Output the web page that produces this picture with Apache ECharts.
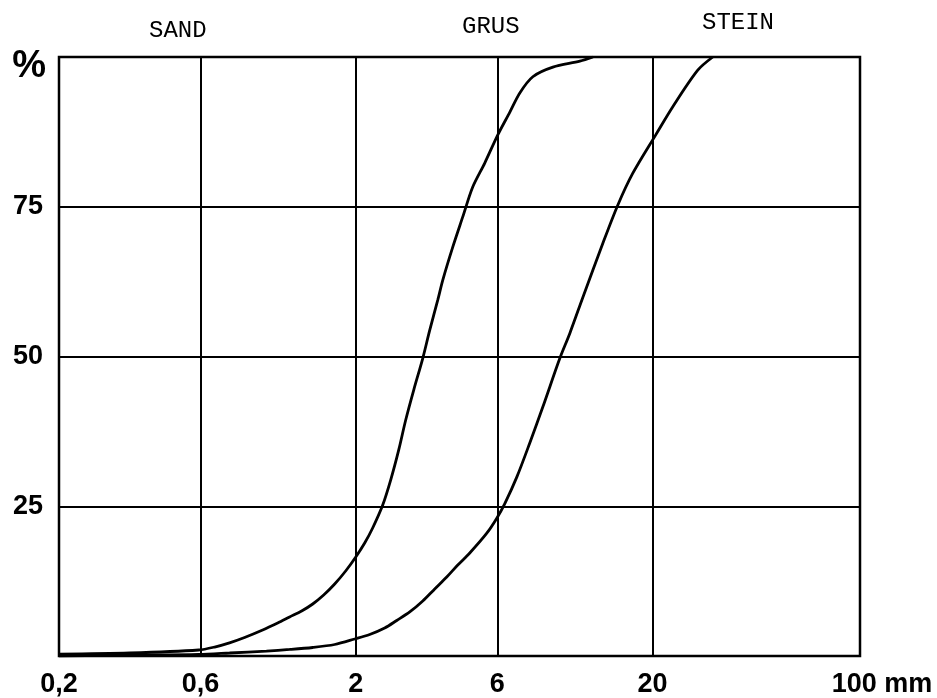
<!DOCTYPE html>
<html>
<head>
<meta charset="utf-8">
<script src="https://cdn.jsdelivr.net/npm/echarts@6/dist/echarts.min.js"></script>
<style>html,body{margin:0;padding:0;background:#fff}#c{width:937px;height:698px}</style>
</head>
<body>
<div id="c"></div>
<script>
// Grain size (mm) and cumulative passing (%)
const xTicks = [0.2, 0.6, 2, 6, 20, 100];
const yTicks = [25, 50, 75];
const zoneNames = ['SAND', 'GRUS', 'STEIN'];

const curveA_size = [0.2, 0.346, 0.591, 0.669, 0.751, 0.844, 0.971, 1.091, 1.197, 1.314, 1.432, 1.559, 1.698, 1.849, 2.0, 2.143, 2.28, 2.465, 2.623, 2.791, 2.946, 3.135, 3.363, 3.55, 3.777, 3.93, 4.246, 4.586, 4.955, 5.44, 6.02, 6.61, 7.14, 7.90, 9.23, 11.38, 12.59];
const curveA_pct  = [0.3, 0.5, 1.0, 1.5, 2.2, 3.09, 4.34, 5.51, 6.51, 7.51, 8.68, 10.18, 12.02, 14.19, 16.53, 18.86, 21.37, 25.2, 29.4, 34.4, 39.4, 44.4, 49.7, 54.4, 59.4, 62.8, 68.3, 73.3, 78.3, 82.3, 87.0, 90.8, 94.0, 96.7, 98.3, 99.3, 100];

const curveB_size = [0.2, 0.346, 0.591, 0.751, 1.0, 1.197, 1.432, 1.698, 1.984, 2.228, 2.503, 2.748, 3.04, 3.363, 3.69, 4.051, 4.413, 4.843, 5.527, 5.973, 6.35, 6.98, 7.72, 8.54, 9.74, 10.53, 11.65, 13.6, 15.28, 17.16, 20.5, 23.4, 28.4, 31.9];
const curveB_pct  = [0.0, 0.15, 0.25, 0.5, 0.83, 1.09, 1.42, 1.92, 2.84, 3.59, 4.67, 5.93, 7.35, 9.18, 11.19, 13.19, 15.19, 17.2, 20.5, 23.0, 25.4, 29.9, 35.6, 41.6, 49.7, 53.9, 59.9, 68.9, 75.3, 80.6, 87.0, 91.7, 97.8, 100];

const zip = (xs, ys) => xs.map((x, i) => [x, ys[i]]);
const chart = echarts.init(document.getElementById('c'), null, {renderer: 'canvas'});

const labelFont = {fontFamily: 'Liberation Sans', fontWeight: 'bold', fontSize: 27, color: '#000'};

chart.setOption({
  animation: false,
  backgroundColor: '#fff',
  grid: {left: 59, right: 77, top: 57, bottom: 42, outerBoundsMode: 'none', containLabel: false,
         show: true, borderColor: '#000', borderWidth: 2.5, backgroundColor: 'transparent'},
  xAxis: {
    type: 'log', logBase: 10, min: 0.2, max: 100,
    axisLine: {show: false}, axisTick: {show: false}, splitLine: {show: false}, minorSplitLine: {show: false},
    axisLabel: {
      customValues: xTicks,
      showMinLabel: true, showMaxLabel: true,
      margin: 15,
      ...labelFont,
      formatter: v => {
        const s = String(v).replace('.', ',');
        return v === 100 ? '{p|}{n|' + s + '}{n| mm}' : s;
      },
      rich: {p: {width: 44}, n: {...labelFont}}
    }
  },
  yAxis: {
    type: 'value', min: 0, max: 100, interval: 25,
    name: '%', nameLocation: 'end', nameGap: -10,
    nameTextStyle: {fontFamily: 'Liberation Sans', fontWeight: 'bold', fontSize: 38, color: '#000', align: 'right', verticalAlign: 'middle', padding: [0, 13, 0, 0]},
    axisLine: {show: false}, axisTick: {show: false},
    splitLine: {show: true, lineStyle: {color: '#000', width: 2}},
    axisLabel: {margin: 16, ...labelFont, formatter: v => (yTicks.includes(v) ? String(v) : '')}
  },
  graphic: [
    {type: 'text', left: 179 - 30, top: 19, style: {text: zoneNames[0], font: '24px "Liberation Mono"', fill: '#000'}},
    {type: 'text', left: 492 - 30, top: 15, style: {text: zoneNames[1], font: '24px "Liberation Mono"', fill: '#000'}},
    {type: 'text', left: 739 - 37, top: 11, style: {text: zoneNames[2], font: '24px "Liberation Mono"', fill: '#000'}}
  ],
  series: [
    {
      type: 'line', data: zip(curveA_size, curveA_pct), smooth: 0.3, showSymbol: false,
      lineStyle: {color: '#000', width: 2.8}, z: 3,
      markLine: {
        silent: true, symbol: 'none', label: {show: false},
        lineStyle: {color: '#000', width: 2, type: 'solid'},
        data: xTicks.slice(1, -1).map(v => ({xAxis: v}))
      }
    },
    {
      type: 'line', data: zip(curveB_size, curveB_pct), smooth: 0.3, showSymbol: false,
      lineStyle: {color: '#000', width: 2.8}, z: 3
    }
  ]
});
</script>
</body>
</html>
